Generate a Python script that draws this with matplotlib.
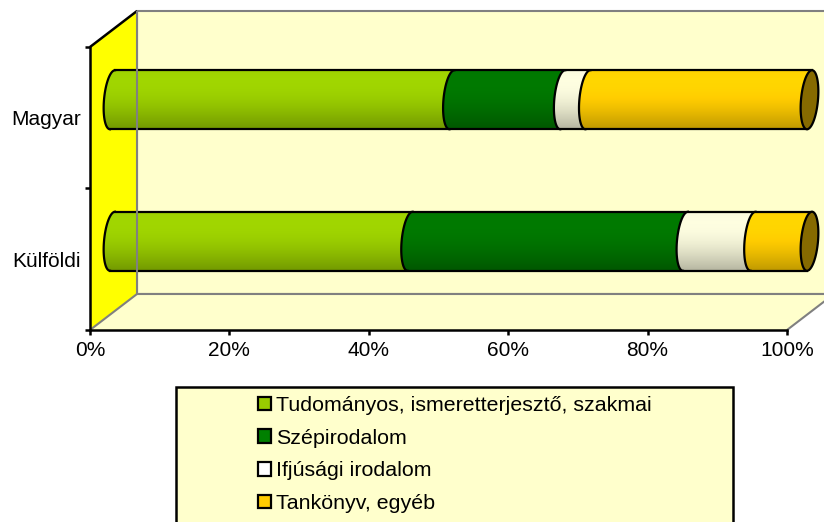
import numpy as np
import matplotlib
matplotlib.use('Agg')
import matplotlib.pyplot as plt
from matplotlib.patches import PathPatch, Polygon, Rectangle, Patch
from matplotlib.path import Path
from matplotlib.transforms import offset_copy, IdentityTransform
from matplotlib.colors import to_rgb

# ---------------- data ----------------
categories = ['Külföldi', 'Magyar']
series_names = ['Tudományos, ismeretterjesztő, szakmai', 'Szépirodalom',
                'Ifjúsági irodalom', 'Tankönyv, egyéb']
tudomanyos = [42.7, 48.7]
szepirodalom = [39.5, 15.9]
ifjusagi = [9.7, 3.6]
tankonyv = [8.1, 31.8]
values = [tudomanyos, szepirodalom, ifjusagi, tankonyv]
legend_colors = ['#99CC00', '#008000', '#FFFFFF', '#FFCC00']
bar_colors = ['#99CC00', '#007400', '#F2F2D6', '#FFCC00']
cap_color = '#866A00'
xticks = [0, 20, 40, 60, 80, 100]
xticklabels = ['0%', '20%', '40%', '60%', '80%', '100%']

plt.rcParams['font.family'] = ['Liberation Sans', 'DejaVu Sans']
FS = 15
LFS = 15.4

W, H = 824, 522
fig = plt.figure(figsize=(W / 100, H / 100), dpi=100)
ax = fig.add_axes([0, 0, 1, 1])
ax.patch.set_visible(False)

# front plane pixel mapping
X0, X100 = 90, 787
YBOT, YTOP = 330, 47
sx = (X100 - X0) / 100.0
sy = (YBOT - YTOP) / 2.0
xlim = (-X0 / sx, (W - X0) / sx)
ylim = (-0.5 - (H - YBOT) / sy, 1.5 + YTOP / sy)

DX, DY = 47, 36
bar_trans = offset_copy(ax.transData, fig=fig, x=22.5, y=DY / 2, units='dots')
back_trans = offset_copy(ax.transData, fig=fig, x=DX, y=DY, units='dots')

ax.set_xlim(*xlim)
ax.set_ylim(*ylim)

# ---------------- walls ----------------
back = Rectangle((0, -0.5), 130, 2.0, transform=back_trans, facecolor='#FFFFCC',
                 edgecolor='#808080', linewidth=1.5, zorder=0.5)
ax.add_patch(back)


def pt(x, y, depth):
    px, py = ax.transData.transform((x, y))
    return (px + depth * DX, py + depth * DY)


def seg(p, q, color, lw, z):
    ax.plot([p[0], q[0]], [p[1], q[1]], transform=IdentityTransform(), color=color,
            lw=lw, zorder=z, solid_capstyle='butt')


floor = Polygon([pt(0, -0.5, 0), pt(100, -0.5, 0), pt(100, -0.5, 1), pt(130, -0.5, 1), pt(0, -0.5, 1)],
                closed=True, transform=IdentityTransform(), facecolor='#FFFFCC',
                edgecolor='none', zorder=0.6)
ax.add_patch(floor)
seg(pt(100, -0.5, 0), pt(100, -0.5, 1), '#808080', 1.5, 0.7)
seg(pt(0, -0.5, 1), pt(130, -0.5, 1), '#808080', 1.5, 0.7)

left = Polygon([pt(0, -0.5, 0), pt(0, 1.5, 0), pt(0, 1.5, 1), pt(0, -0.5, 1)], closed=True,
               transform=IdentityTransform(), facecolor='#FFFF00', edgecolor='none', zorder=0.8)
ax.add_patch(left)
seg(pt(0, -0.5, 1), pt(0, 1.5, 1), '#808080', 1.5, 5)   # back-left edge shows over bars
seg(pt(0, -0.5, 0), pt(0, -0.5, 1), '#808080', 1.5, 0.85)
seg(pt(0, 1.5, 0), pt(0, 1.5, 1), 'black', 1.8, 0.9)

# ---------------- cylinders ----------------
bh = 0.417
a = 8.5 / sx      # ellipse half width (data units)
k = 2.5 / sx      # perspective slant of the ellipses
b = bh / 2


def ell(cx, yc, th):
    return cx + a * np.cos(th) + k * np.sin(th), yc + b * np.sin(th)


def shade(c, n=80):
    t = np.linspace(0, 1, n)
    f = 0.75 + 0.3 * np.sin(np.pi * t * 0.62)
    rgb = np.clip(np.array(to_rgb(c))[None, :] * f[:, None], 0, 1)
    return rgb[:, None, :]


ypos = np.arange(len(categories))
lefts = np.zeros(len(categories))
th_half = np.linspace(np.pi / 2, 3 * np.pi / 2, 60)
for si, vals in enumerate(values):
    vals = np.asarray(vals)
    z0 = 2 + si * 0.1
    ax.barh(ypos, vals, left=lefts, height=bh, color=bar_colors[si],
            transform=bar_trans, zorder=z0, linewidth=0)
    for yi, (s, w) in enumerate(zip(lefts, vals)):
        e = s + w
        yc = ypos[yi]
        ex, ey = ell(s, yc, th_half)
        vx = list(ex) + [e - k, e + k, s + k, s + k]
        vy = list(ey) + [yc - b, yc + b, yc + b, yc + b]
        path = Path(np.column_stack([vx, vy]), closed=True)
        shape = PathPatch(path, transform=bar_trans, facecolor=bar_colors[si],
                          edgecolor='none', zorder=z0 + 0.01)
        ax.add_patch(shape)
        im = ax.imshow(shade(bar_colors[si]), extent=(s - a - k, e + k, yc - b, yc + b),
                       origin='lower', aspect='auto', interpolation='bilinear',
                       transform=bar_trans, zorder=z0 + 0.02)
        im.set_clip_box(fig.bbox)
        im.set_clip_path(shape)
        ax.plot(ex, ey, transform=bar_trans, color='black', lw=1.6, zorder=z0 + 0.03)
    lefts = lefts + vals

th_full = np.linspace(0, 2 * np.pi, 120)
for yi, tot in enumerate(lefts):
    yc = ypos[yi]
    ax.plot([k, tot + k], [yc + b] * 2, transform=bar_trans, color='black', lw=1.6, zorder=3)
    ax.plot([-k, tot - k], [yc - b] * 2, transform=bar_trans, color='black', lw=1.6, zorder=3)
    cx, cy = ell(tot, yc, th_full)
    cap = Polygon(np.column_stack([cx, cy]), closed=True, transform=bar_trans,
                  facecolor=cap_color, edgecolor='black', lw=1.6, zorder=3.1)
    ax.add_patch(cap)

ax.set_xlim(*xlim)
ax.set_ylim(*ylim)

# ---------------- axes ----------------
for kk in ['top', 'right']:
    ax.spines[kk].set_visible(False)
ax.spines['left'].set_position(('data', 0))
ax.spines['left'].set_bounds(-0.5, 1.5)
ax.spines['bottom'].set_position(('data', -0.5))
ax.spines['bottom'].set_bounds(0, 100)
for kk in ['left', 'bottom']:
    ax.spines[kk].set_linewidth(1.8)
    ax.spines[kk].set_zorder(4)

ax.set_xticks(xticks)
ax.set_xticklabels(xticklabels, fontsize=FS)
ax.tick_params(axis='x', direction='out', length=3.8, width=1.8, pad=4)
ax.set_yticks([-0.5, 0.5, 1.5])
ax.set_yticklabels([])
ax.tick_params(axis='y', which='major', direction='out', length=3.8, width=1.8)
ax.set_yticks(ypos, minor=True)
ax.set_yticklabels(categories, minor=True, fontsize=FS)
ax.tick_params(axis='y', which='minor', length=0, pad=6.5)

# ---------------- legend ----------------
frame = Rectangle((176 / W, -0.02), (733 - 176) / W, (H - 387) / H + 0.02,
                  transform=fig.transFigure, facecolor='#FFFFCC', edgecolor='black',
                  linewidth=1.8, zorder=1)
fig.add_artist(frame)
handles = [Patch(facecolor=c, edgecolor='black', linewidth=1.6) for c in legend_colors]
fig.legend(handles, series_names, loc='upper left',
           bbox_to_anchor=(258 / W, 1 - 396 / H), frameon=False, fontsize=LFS,
           borderpad=0, borderaxespad=0, handlelength=0.6, handleheight=0.6,
           handletextpad=0.25, labelspacing=0.64)

fig.savefig('out.png', dpi=100)
